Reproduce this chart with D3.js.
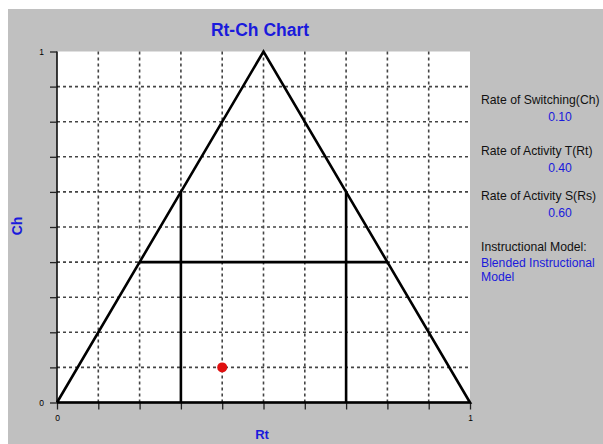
<!DOCTYPE html>
<html>
<head>
<meta charset="utf-8">
<script src="https://cdn.jsdelivr.net/npm/d3@7"></script>
<style>
  html, body { margin: 0; padding: 0; background: #fff; }
  svg { display: block; }
  text { font-family: "Liberation Sans", Arial, sans-serif; }
</style>
</head>
<body>
<svg id="chart" width="603" height="444"></svg>
<script>
// Triangle outline (Rt, Ch) and the guide segments inside it
const triangle = [[0, 0], [0.5, 1], [1, 0]];
const guideSegments = [
  [[0.3, 0], [0.3, 0.6]],
  [[0.7, 0], [0.7, 0.6]],
  [[0.2, 0.4], [0.8, 0.4]]
];
// Current observation
const rtValue = 0.40;
const chValue = 0.10;
const rsValue = 0.60;
const gridTicks = d3.range(0, 1.0001, 0.1);
const tickLabels = { 0: "0", 1: "1" };
const panelItems = [
  { label: "Rate of Switching(Ch)", value: chValue.toFixed(2) },
  { label: "Rate of Activity T(Rt)", value: rtValue.toFixed(2) },
  { label: "Rate of Activity S(Rs)", value: rsValue.toFixed(2) }
];
const panelLabelY = [103.5, 154.5, 200];
const modelName = ["Blended Instructional", "Model"];

const svg = d3.select("#chart");
const W = 603, H = 444;

svg.append("rect").attr("x", 8).attr("y", 9).attr("width", W - 8).attr("height", H - 9)
  .attr("fill", "#c0c0c0");

const plotLeft = 57, plotRight = 470, plotTop = 51.5, plotBottom = 402.5;
const x = d3.scaleLinear().domain([0, 1]).range([plotLeft, plotRight]);
const y = d3.scaleLinear().domain([0, 1]).range([plotBottom, plotTop]);

svg.append("rect").attr("x", plotLeft).attr("y", plotTop)
  .attr("width", plotRight - plotLeft).attr("height", plotBottom - plotTop).attr("fill", "#fff");

// dashed grid
const grid = svg.append("g").attr("stroke", "#444").attr("stroke-width", 1.6)
  .attr("stroke-dasharray", "3,3");
grid.selectAll("line.v").data(gridTicks.slice(1, -1)).join("line").attr("class", "v")
  .attr("x1", d => x(d)).attr("x2", d => x(d)).attr("y1", plotTop).attr("y2", plotBottom);
grid.selectAll("line.h").data(gridTicks.slice(1, -1)).join("line").attr("class", "h")
  .attr("y1", d => y(d)).attr("y2", d => y(d)).attr("x1", plotLeft).attr("x2", plotRight);

// axes
const fmt = d => tickLabels[Math.round(d * 10) / 10] ?? "";
const xAxis = d3.axisBottom(x).tickValues(gridTicks).tickSize(7).tickPadding(5).tickFormat(fmt);
const yAxis = d3.axisLeft(y).tickValues(gridTicks).tickSize(7).tickPadding(6).tickFormat(fmt);

const gx = svg.append("g").attr("transform", `translate(0,${plotBottom})`).call(xAxis);
const gy = svg.append("g").attr("transform", `translate(${plotLeft},0)`).call(yAxis);
[gx, gy].forEach(g => {
  g.select(".domain").attr("stroke", "#000").attr("stroke-width", 1.5);
  g.selectAll(".tick line").attr("stroke", "#222").attr("stroke-width", 1.3);
  g.selectAll(".tick text").attr("fill", "#000").attr("font-size", 8.5)
    .attr("font-family", "Liberation Sans, Arial, sans-serif");
});
gx.select(".domain").attr("d", `M${plotLeft},0H${plotRight}`);
gy.select(".domain").attr("d", `M0,${plotTop}V${plotBottom}`);

// triangle and guides
const line = d3.line().x(d => x(d[0])).y(d => y(d[1]));
svg.append("path").datum(triangle.concat([triangle[0]])).attr("d", line)
  .attr("fill", "none").attr("stroke", "#000").attr("stroke-width", 2.6)
  .attr("stroke-linejoin", "miter");
svg.selectAll("path.guide").data(guideSegments).join("path")
  .attr("class", "guide").attr("d", line)
  .attr("fill", "none").attr("stroke", "#000").attr("stroke-width", 2.6);

// point
svg.append("circle").attr("cx", x(rtValue)).attr("cy", y(chValue)).attr("r", 5)
  .attr("fill", "#e01010");

// titles
svg.append("text").attr("x", 260).attr("y", 36)
  .attr("text-anchor", "middle").attr("font-size", 17.5).attr("font-weight", "bold")
  .attr("fill", "#1a1adc").text("Rt-Ch Chart");
svg.append("text").attr("x", 262).attr("y", 439)
  .attr("text-anchor", "middle").attr("font-size", 13).attr("font-weight", "bold")
  .attr("fill", "#1a1adc").text("Rt");
svg.append("text").attr("transform", `translate(22,226) rotate(-90)`)
  .attr("text-anchor", "middle").attr("font-size", 14).attr("font-weight", "bold")
  .attr("fill", "#1a1adc").text("Ch");

// side panel
const panel = svg.append("g").attr("font-size", 12.2);
panelItems.forEach((item, i) => {
  const baseY = panelLabelY[i];
  panel.append("text").attr("x", 481).attr("y", baseY).attr("fill", "#111").text(item.label);
  panel.append("text").attr("x", 560).attr("y", baseY + 17).attr("text-anchor", "middle")
    .attr("fill", "#1a1adc").text(item.value);
});
panel.append("text").attr("x", 481).attr("y", 251).attr("fill", "#111").text("Instructional Model:");
modelName.forEach((t, i) => {
  panel.append("text").attr("x", 481).attr("y", 266.5 + i * 14.5).attr("fill", "#1a1adc").text(t);
});
</script>
</body>
</html>
